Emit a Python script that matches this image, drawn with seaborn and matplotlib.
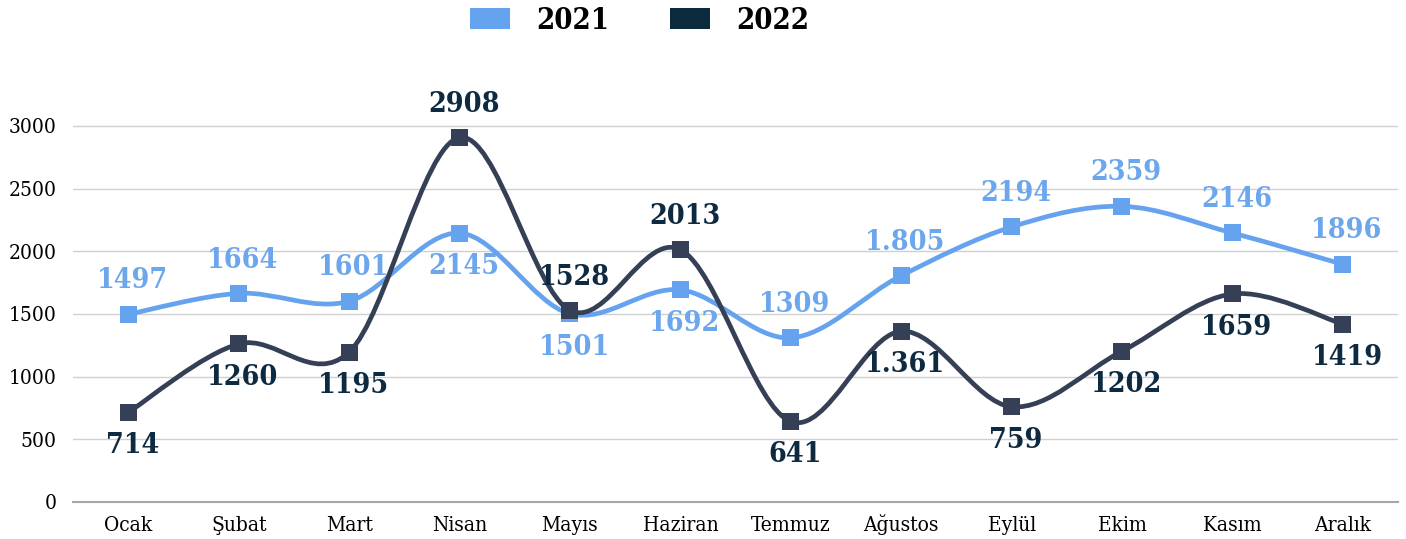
import matplotlib
matplotlib.use("Agg")
import matplotlib.pyplot as plt
from matplotlib.path import Path
from matplotlib.patches import PathPatch, Patch
import seaborn as sns
import pandas as pd

# data
months = ["Ocak", "Şubat", "Mart", "Nisan", "Mayıs", "Haziran",
          "Temmuz", "Ağustos", "Eylül", "Ekim", "Kasım", "Aralık"]
vals_2021 = [1497, 1664, 1601, 2145, 1501, 1692, 1309, 1805, 2194, 2359, 2146, 1896]
vals_2022 = [714, 1260, 1195, 2908, 1528, 2013, 641, 1361, 759, 1202, 1659, 1419]
labels_2021 = ["1497", "1664", "1601", "2145", "1501", "1692", "1309", "1.805", "2194", "2359", "2146", "1896"]
labels_2022 = ["714", "1260", "1195", "2908", "1528", "2013", "641", "1.361", "759", "1202", "1659", "1419"]
# +1 = label above the point, -1 = below
side_2021 = [1, 1, 1, -1, -1, -1, 1, 1, 1, 1, 1, 1]
side_2022 = [-1, -1, -1, 1, 1, 1, -1, -1, -1, -1, -1, -1]

c21_line = "#66a3ef"
c21_text = "#6ca7ee"
c22_line = "#353f55"
c22_text = "#0e2a40"
c22_legend = "#0b2a3c"

sns.set_theme(style="white")
plt.rcParams["font.family"] = ["DejaVu Serif", "Liberation Serif"]
plt.rcParams["font.stretch"] = "condensed"

df = pd.DataFrame({"x": list(range(len(months))) * 2,
                   "y": vals_2021 + vals_2022,
                   "year": ["2021"] * 12 + ["2022"] * 12})

fig = plt.figure(figsize=(14.06, 5.39), dpi=100)
ax = fig.add_axes([0.052, 0.069, 0.9423, 0.767])


def smooth_path(xs, ys):
    # catmull-rom style bezier through the points (like excel "smoothed line")
    verts = [(xs[0], ys[0])]
    codes = [Path.MOVETO]
    n = len(xs)
    for i in range(n - 1):
        x0, y0 = (xs[i - 1], ys[i - 1]) if i > 0 else (xs[i], ys[i])
        x1, y1 = xs[i], ys[i]
        x2, y2 = xs[i + 1], ys[i + 1]
        x3, y3 = (xs[i + 2], ys[i + 2]) if i + 2 < n else (x2, y2)
        c1 = (x1 + (x2 - x0) / 6, y1 + (y2 - y0) / 6)
        c2 = (x2 - (x3 - x1) / 6, y2 - (y3 - y1) / 6)
        verts += [c1, c2, (x2, y2)]
        codes += [Path.CURVE4] * 3
    return Path(verts, codes)


xs = list(range(len(months)))
for vals, col in [(vals_2021, c21_line), (vals_2022, c22_line)]:
    ax.add_patch(PathPatch(smooth_path(xs, vals), facecolor="none",
                           edgecolor=col, lw=3.4, zorder=3, capstyle="round"))

sns.scatterplot(data=df, x="x", y="y", hue="year", palette=[c21_line, c22_line],
                marker="s", s=150, linewidth=0, legend=False, zorder=4, ax=ax)

for vals, labs, sides, col in [(vals_2021, labels_2021, side_2021, c21_text),
                               (vals_2022, labels_2022, side_2022, c22_text)]:
    for i, (v, lab, s) in enumerate(zip(vals, labs, sides)):
        ax.annotate(lab, (i, v), xytext=(3, 24 * s), textcoords="offset points",
                    ha="center", va="center", fontsize=20.5, fontweight="bold",
                    color=col, zorder=5)

ax.set_xlim(-0.5, 11.5)
ax.set_ylim(0, 3300)
ax.set_yticks(range(0, 3001, 500))
ax.set_xticks(xs)
ax.set_xticklabels(months, va="baseline")
ax.tick_params(axis="both", labelsize=15, colors="black", length=0)
ax.tick_params(axis="x", pad=21)
ax.tick_params(axis="y", pad=12)
ax.yaxis.grid(True, color="#d0d0d0", lw=1)
ax.set_axisbelow(True)
for sp in ["top", "right", "left"]:
    ax.spines[sp].set_visible(False)
ax.spines["bottom"].set_color("#a6a6a6")
ax.spines["bottom"].set_linewidth(1.5)
ax.set_xlabel("")
ax.set_ylabel("")

handles = [Patch(facecolor=c21_line, edgecolor="none", label="2021"),
           Patch(facecolor=c22_legend, edgecolor="none", label="2022")]
leg = fig.legend(handles=handles, loc="center", bbox_to_anchor=(0.455, 0.962), ncol=2,
                 frameon=False, prop={"size": 21, "weight": "bold"},
                 handlelength=1.35, handleheight=0.75, handletextpad=0.9, columnspacing=2.1)
for t in leg.get_texts():
    t.set_color("black")

fig.savefig("out.png", dpi=100, facecolor="white")
